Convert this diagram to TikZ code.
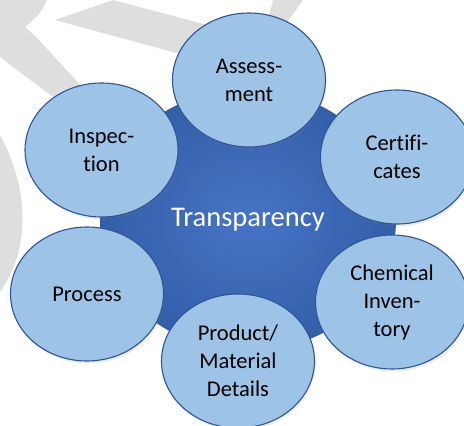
\documentclass[tikz,border=0pt]{standalone}
\usepackage{fontspec}
\setmainfont{Carlito}[Ligatures=NoCommon]
\usepackage{xcolor}
\usepackage{tikz}
\usetikzlibrary{shapes,shadows,backgrounds}
\definecolor{wmgray}{RGB}{222,222,222}
\definecolor{hubblue}{RGB}{70,116,198}
\definecolor{hubedge}{RGB}{52,94,168}
\definecolor{leafblue}{RGB}{157,195,230}
\definecolor{leafline}{RGB}{47,85,151}
\def\leafnode#1#2#3{\node [leaf] (#1) at (#2) {#3}}
\tikzstyle{wmark}=[fill=wmgray,draw=none]
\tikzstyle{hub}=[ellipse,inner sep=0pt,minimum width=296pt,minimum height=262pt,inner color=hubblue,outer color=hubedge,text=white,font=\fontsize{28.5}{34}\selectfont]
\tikzstyle{leaf}=[ellipse,inner sep=0pt,minimum width=153pt,minimum height=134pt,fill=leafblue,draw=leafline,line width=1.1pt,align=center,font=\fontsize{22.5}{28}\selectfont,drop shadow={opacity=0.15,shadow xshift=1pt,shadow yshift=-2.5pt}]

\begin{document}
\begin{tikzpicture}[x=1pt,y=-1pt]
    \useasboundingbox (0,0) rectangle (464,426);
    \clip (0,0) rectangle (464,426);
    % faded marks behind
    \path[wmark] (0,0) -- (47,0) .. controls (40,14) .. (25,27) -- (37,38) -- (85,90) -- (57,100) -- (0,57) -- cycle;
    \path[wmark] (55,20) -- (113,0) -- (215,27) -- (195,58) -- cycle;
    \path[wmark] (273,0) -- (303,0) -- (283,28) -- (266,28) -- cycle;
    \path[wmark] (0,135) .. controls (30,190) and (30,250) .. (0,292) -- cycle;
    % hub and leaves
    \node[hub] (trans) at (248,220) {Transparency};
    \leafnode{assess}{249,80}{Assess-\\ment};
    \leafnode{certif}{397,157}{Certifi-\\cates};
    \leafnode{inspec}{101.5,150}{Inspec-\\tion};
    \leafnode{proc}{87,294}{Process};
    \leafnode{chem}{392,302}{Chemical\\Inven-\\tory};
    \leafnode{prod}{238,361}{Product/\\Material\\Details};
\end{tikzpicture}
\end{document}
